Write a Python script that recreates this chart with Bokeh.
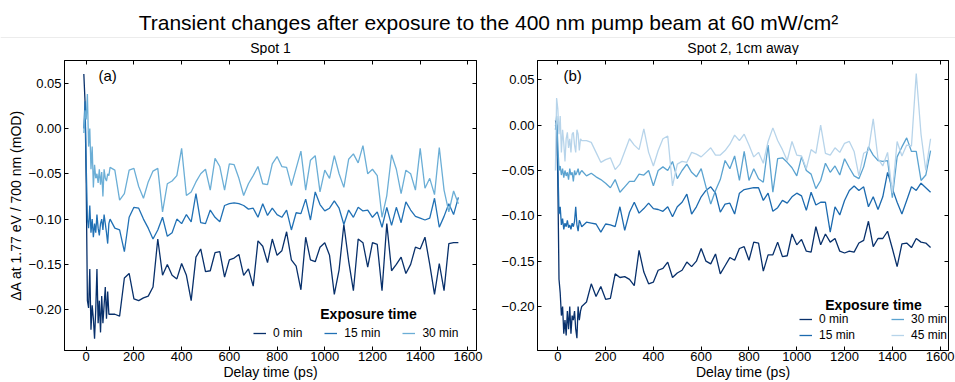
from bokeh.plotting import figure
from bokeh.models import (Range1d, LinearAxis, FixedTicker, CustomJSTickFormatter,
                          Legend, LegendItem, Label, Span, ColumnDataSource)
from bokeh.layouts import column, row
from bokeh.embed import file_html
from bokeh.resources import INLINE

# ---------------- data ----------------
delay_ps = [-10, -5, 0, 5, 10, 15, 20, 25, 30, 35, 40, 45, 50, 55, 60, 65, 70, 75, 80, 85, 90, 95, 100,
            120, 140, 160, 180, 200, 220, 240, 260, 280, 300,
            320, 340, 360, 380, 400, 420, 440, 460, 480, 500,
            520, 540, 560, 580, 600, 620, 640, 660, 680, 700,
            720, 740, 760, 780, 800, 820, 840, 860, 880, 900,
            920, 940, 960, 980, 1000, 1020, 1040, 1060, 1080, 1100,
            1120, 1140, 1160, 1180, 1200, 1220, 1240, 1260, 1280, 1300,
            1320, 1340, 1360, 1380, 1400, 1420, 1440, 1460, 1480, 1500,
            1520, 1540, 1560]

spot1_0min = [0.060, 0.030, -0.060, -0.190, -0.198, -0.155, -0.222, -0.195, -0.210, -0.232, -0.200, -0.155,
              -0.215, -0.190, -0.225, -0.185, -0.215, -0.195, -0.175, -0.210, -0.180, -0.205, -0.205,
              -0.205, -0.207, -0.165, -0.160, -0.188, -0.190, -0.187, -0.185, -0.175, -0.122,
              -0.162, -0.150, -0.162, -0.166, -0.149, -0.162, -0.190, -0.142, -0.133, -0.158,
              -0.157, -0.137, -0.136, -0.164, -0.145, -0.143, -0.139, -0.162, -0.155, -0.174,
              -0.124, -0.130, -0.148, -0.122, -0.140, -0.135, -0.114, -0.145, -0.152, -0.178,
              -0.120, -0.145, -0.147, -0.131, -0.126, -0.140, -0.183, -0.156, -0.106, -0.146,
              -0.179, -0.122, -0.126, -0.153, -0.126, -0.128, -0.179, -0.105, -0.157, -0.150,
              -0.142, -0.160, -0.150, -0.131, -0.133, -0.120, -0.150, -0.183, -0.149, -0.179,
              -0.127, -0.126, -0.126]
spot1_15min = [0.000, 0.030, -0.040, -0.100, -0.110, -0.085, -0.115, -0.100, -0.120, -0.105, -0.115, -0.095,
               -0.110, -0.118, -0.105, -0.100, -0.112, -0.095, -0.105, -0.115, -0.127, -0.105, -0.100,
               -0.110, -0.112, -0.136, -0.098, -0.087, -0.088, -0.100, -0.110, -0.122, -0.112,
               -0.098, -0.119, -0.115, -0.100, -0.105, -0.095, -0.103, -0.072, -0.104, -0.105,
               -0.090, -0.098, -0.103, -0.085, -0.083, -0.082, -0.083, -0.085, -0.089, -0.088,
               -0.098, -0.083, -0.096, -0.088, -0.095, -0.098, -0.090, -0.112, -0.093, -0.094,
               -0.078, -0.101, -0.070, -0.084, -0.091, -0.088, -0.080, -0.088, -0.106, -0.090,
               -0.098, -0.087, -0.091, -0.090, -0.098, -0.092, -0.109, -0.087, -0.107, -0.087,
               -0.104, -0.081, -0.090, -0.097, -0.099, -0.101, -0.099, -0.077, -0.109, -0.097,
               -0.083, -0.095, -0.076]
spot1_30min = [-0.005, 0.020, 0.010, 0.038, -0.020, 0.000, -0.045, -0.020, -0.065, -0.040, -0.055, -0.050,
               -0.060, -0.045, -0.062, -0.048, -0.075, -0.045, -0.055, -0.058, -0.050, -0.052, -0.043,
               -0.046, -0.079, -0.072, -0.046, -0.044, -0.064, -0.077, -0.059, -0.047, -0.044,
               -0.092, -0.061, -0.058, -0.052, -0.022, -0.074, -0.070, -0.059, -0.050, -0.045,
               -0.068, -0.033, -0.042, -0.068, -0.039, -0.040, -0.055, -0.074, -0.061, -0.052,
               -0.042, -0.061, -0.062, -0.039, -0.031, -0.042, -0.043, -0.063, -0.044, -0.025,
               -0.068, -0.035, -0.030, -0.070, -0.046, -0.055, -0.030, -0.050, -0.065, -0.034,
               -0.028, -0.038, -0.019, -0.050, -0.045, -0.052, -0.098, -0.074, -0.029, -0.045,
               -0.072, -0.046, -0.050, -0.068, -0.022, -0.066, -0.055, -0.073, -0.021, -0.068,
               -0.092, -0.069, -0.083]

spot2_0min = [0.005, 0.000, -0.060, -0.170, -0.185, -0.210, -0.200, -0.230, -0.215, -0.232, -0.205, -0.225,
              -0.200, -0.230, -0.210, -0.215, -0.205, -0.225, -0.235, -0.200, -0.215, -0.205, -0.200,
              -0.195, -0.175, -0.189, -0.178, -0.192, -0.191, -0.164, -0.168, -0.167, -0.170,
              -0.177, -0.138, -0.162, -0.175, -0.173, -0.160, -0.158, -0.151, -0.168, -0.163,
              -0.160, -0.151, -0.156, -0.150, -0.136, -0.150, -0.153, -0.142, -0.164, -0.155,
              -0.146, -0.149, -0.136, -0.134, -0.149, -0.129, -0.130, -0.161, -0.143, -0.143,
              -0.129, -0.145, -0.144, -0.120, -0.132, -0.126, -0.139, -0.140, -0.112, -0.132,
              -0.120, -0.129, -0.125, -0.139, -0.141, -0.139, -0.140, -0.130, -0.127, -0.106,
              -0.134, -0.125, -0.125, -0.117, -0.136, -0.156, -0.131, -0.130, -0.135, -0.125,
              -0.129, -0.130, -0.135]
spot2_15min = [0.000, -0.005, -0.040, -0.098, -0.090, -0.110, -0.103, -0.115, -0.108, -0.112, -0.105, -0.113,
               -0.110, -0.115, -0.108, -0.112, -0.106, -0.090, -0.110, -0.117, -0.105, -0.108, -0.112,
               -0.107, -0.108, -0.109, -0.118, -0.109, -0.110, -0.112, -0.090, -0.116, -0.096,
               -0.085, -0.097, -0.092, -0.086, -0.092, -0.093, -0.095, -0.090, -0.101, -0.090,
               -0.085, -0.076, -0.098, -0.090, -0.079, -0.072, -0.068, -0.075, -0.096, -0.087,
               -0.086, -0.098, -0.075, -0.071, -0.070, -0.069, -0.069, -0.083, -0.075, -0.095,
               -0.091, -0.083, -0.086, -0.079, -0.075, -0.078, -0.094, -0.074, -0.088, -0.085,
               -0.085, -0.118, -0.090, -0.099, -0.083, -0.072, -0.067, -0.072, -0.068, -0.090,
               -0.079, -0.093, -0.079, -0.052, -0.070, -0.085, -0.098, -0.083, -0.068, -0.072,
               -0.064, -0.069, -0.074]
spot2_30min = [-0.005, 0.010, -0.020, -0.050, -0.045, -0.055, -0.048, -0.058, -0.050, -0.056, -0.052, -0.060,
               -0.048, -0.055, -0.052, -0.062, -0.050, -0.055, -0.052, -0.048, -0.055, -0.052, -0.050,
               -0.056, -0.053, -0.057, -0.060, -0.064, -0.069, -0.060, -0.074, -0.068, -0.062,
               -0.062, -0.054, -0.055, -0.050, -0.067, -0.050, -0.046, -0.050, -0.040, -0.059,
               -0.050, -0.043, -0.052, -0.057, -0.048, -0.068, -0.087, -0.072, -0.060, -0.039,
               -0.048, -0.034, -0.061, -0.029, -0.061, -0.048, -0.059, -0.063, -0.022, -0.074,
               -0.037, -0.036, -0.041, -0.047, -0.056, -0.035, -0.050, -0.054, -0.070, -0.061,
               -0.042, -0.052, -0.045, -0.055, -0.037, -0.047, -0.056, -0.059, -0.046, -0.024,
               -0.033, -0.039, -0.040, -0.039, -0.080, -0.035, -0.024, -0.014, -0.029, -0.029,
               -0.061, -0.055, -0.028]
spot2_45min = [-0.050, 0.030, 0.018, -0.010, 0.010, -0.030, -0.005, -0.020, -0.040, -0.015, -0.008, -0.025,
               -0.015, -0.030, -0.010, -0.008, -0.022, -0.030, -0.005, -0.010, -0.028, -0.015, -0.017,
               -0.017, -0.019, -0.030, -0.041, -0.038, -0.036, -0.049, -0.043, -0.029, -0.015,
               -0.022, -0.027, -0.004, -0.030, -0.045, -0.028, -0.015, -0.012, -0.067, -0.043,
               -0.040, -0.041, -0.030, -0.032, -0.035, -0.030, -0.025, -0.033, -0.033, -0.028,
               -0.021, -0.011, -0.017, -0.010, -0.022, -0.035, -0.030, -0.042, -0.018, -0.003,
               -0.017, -0.027, -0.039, -0.018, -0.033, -0.034, -0.048, -0.027, -0.031, 0.000,
               -0.031, -0.033, -0.025, -0.030, -0.020, -0.018, -0.029, -0.056, -0.031, -0.028,
               0.007, -0.037, -0.045, -0.030, -0.075, -0.018, -0.034, -0.022, -0.023, 0.057,
               -0.010, -0.050, -0.015]

spot1_labels = ["0 min", "15 min", "30 min"]
spot2_labels = ["0 min", "15 min", "30 min", "45 min"]
spot1_colors = ["#08306b", "#2171b5", "#6baed6"]
spot2_colors = ["#08306b", "#1c6aaf", "#5ba3d0", "#b7d4ea"]
x_ticks = [0, 200, 400, 600, 800, 1000, 1200, 1400, 1600]
y_ticks = [-0.20, -0.15, -0.10, -0.05, 0.0, 0.05]

FONT = "Liberation Sans"

yfmt_code = """
if (Math.abs(tick) < 1e-9) { return "0.00"; }
const s = Math.abs(tick).toFixed(2);
return tick < 0 ? "\u2212" + s : s;
"""


def style_legend(legend):
    legend.glyph_width = 13
    legend.glyph_height = 12
    legend.label_height = 12
    legend.label_standoff = 7
    legend.padding = 0
    legend.margin = 0
    legend.border_line_color = None
    legend.background_fill_alpha = 0
    legend.label_text_font = FONT
    legend.label_text_font_size = "12px"
    legend.label_text_color = "black"


def make_panel(series, labels, colors, width, x_rng, y_rng, left_border, right_border, ylabel, tag,
               leg_title_xy, horizontal):
    p = figure(width=width, height=327, output_backend="svg", toolbar_location=None,
               x_range=Range1d(*x_rng), y_range=Range1d(*y_rng),
               x_axis_location=None, y_axis_location=None,
               min_border_left=left_border, min_border_right=right_border,
               min_border_top=5, min_border_bottom=32)
    p.grid.visible = False
    p.outline_line_color = "black"
    p.outline_line_width = 1
    p.background_fill_color = "white"
    p.border_fill_color = "white"

    def style(ax, show_labels):
        ax.major_tick_in = 4
        ax.major_tick_out = 0
        ax.minor_tick_in = 0
        ax.minor_tick_out = 0
        ax.axis_line_color = "black"
        ax.major_tick_line_color = "black"
        ax.major_label_text_font = FONT
        if show_labels:
            ax.major_label_text_color = "black"
            ax.major_label_text_font_size = "13px"
            ax.major_label_standoff = 1
        else:
            ax.major_label_text_color = None
            ax.major_label_text_font_size = "1px"
            ax.major_label_standoff = 0

    bottom = LinearAxis(ticker=FixedTicker(ticks=x_ticks), axis_label="Delay time (ps)")
    top = LinearAxis(ticker=FixedTicker(ticks=x_ticks))
    left = LinearAxis(ticker=FixedTicker(ticks=y_ticks), formatter=CustomJSTickFormatter(code=yfmt_code),
                      axis_label=ylabel)
    right = LinearAxis(ticker=FixedTicker(ticks=y_ticks))
    for ax, lab in ((bottom, True), (top, False), (left, True), (right, False)):
        style(ax, lab)
    left.major_label_standoff = 3
    for ax in (bottom, left):
        ax.axis_label_text_font = FONT
        ax.axis_label_text_font_size = "14px"
        ax.axis_label_text_font_style = "normal"
        ax.axis_label_text_color = "black"
    bottom.axis_label_standoff = 0
    left.axis_label_standoff = 2
    p.add_layout(bottom, "below")
    p.add_layout(top, "above")
    p.add_layout(left, "left")
    p.add_layout(right, "right")

    items = []
    for vals, lab, col in zip(series, labels, colors):
        n = min(len(delay_ps), len(vals))
        src = ColumnDataSource(data=dict(t=delay_ps[:n], v=vals[:n]))
        r = p.line("t", "v", source=src, line_color=col, line_width=1.3)
        items.append(LegendItem(label=lab, renderers=[r]))

    if horizontal:
        legend = Legend(items=items, location=(189, 10), orientation="horizontal", spacing=22)
        style_legend(legend)
        p.add_layout(legend)
    else:
        leg1 = Legend(items=items[:2], location=(262, 8), orientation="vertical", spacing=2)
        leg2 = Legend(items=items[2:], location=(354, 8), orientation="vertical", spacing=2)
        for lg in (leg1, leg2):
            style_legend(lg)
            p.add_layout(lg)

    p.add_layout(Label(x=leg_title_xy[0], y=leg_title_xy[1], x_units="screen", y_units="screen",
                       text="Exposure time", text_align="center", text_baseline="middle",
                       text_font=FONT, text_font_size="14px", text_font_style="bold",
                       text_color="black"))
    p.add_layout(Label(x=tag[1], y=275, x_units="screen", y_units="screen", text=tag[0],
                       text_align="left", text_baseline="middle", text_font=FONT,
                       text_font_size="15px", text_color="black"))
    return p


p1 = make_panel([spot1_0min, spot1_15min, spot1_30min], spot1_labels, spot1_colors,
                486, (-91, 1636), (-0.245, 0.075), 64, 10,
                "\u0394A at 1.77 eV / 700 nm (mOD)", ("(a)", 34), (304, 37), True)
p2 = make_panel([spot2_0min, spot2_15min, spot2_30min, spot2_45min], spot2_labels, spot2_colors,
                469, (-85, 1635), (-0.2485, 0.0713), 51, 7,
                None, ("(b)", 26), (336, 46), False)

header = figure(width=955, height=55, output_backend="svg", toolbar_location=None,
                x_range=Range1d(0, 955), y_range=Range1d(0, 55),
                x_axis_location=None, y_axis_location=None, min_border=0)
header.grid.visible = False
header.outline_line_color = None
header.add_layout(Span(location=18, dimension="width", line_color="#ececec", line_width=1))
header.add_layout(Label(x=488, y=33, text="Transient changes after exposure to the 400 nm pump beam at 60 mW/cm\u00b2",
                        text_align="center", text_baseline="middle", text_font=FONT,
                        text_font_size="21px", text_color="black"))
header.add_layout(Label(x=270, y=8, text="Spot 1", text_align="center", text_baseline="middle",
                        text_font=FONT, text_font_size="14px", text_color="black"))
header.add_layout(Label(x=742.5, y=8, text="Spot 2, 1cm away", text_align="center",
                        text_baseline="middle", text_font=FONT, text_font_size="14px",
                        text_color="black"))

layout = column(header, row(p1, p2))
open("out.html", "w").write(file_html(layout, INLINE))
